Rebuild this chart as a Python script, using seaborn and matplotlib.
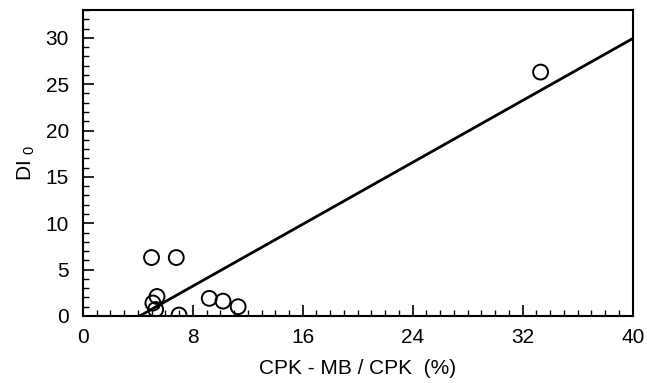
import matplotlib
matplotlib.use("Agg")
import matplotlib.pyplot as plt
from matplotlib.ticker import MultipleLocator
import numpy as np
import pandas as pd
import seaborn as sns

cpk_mb_ratio = [5.0, 6.8, 5.4, 5.1, 5.3, 7.0, 9.2, 10.2, 11.3, 33.3]
di_0 = [6.3, 6.3, 2.1, 1.4, 0.7, 0.1, 1.9, 1.6, 1.0, 26.3]

x_ticks = [0, 8, 16, 24, 32, 40]
y_ticks = [0, 5, 10, 15, 20, 25, 30]

data = pd.DataFrame({"ratio": cpk_mb_ratio, "di0": di_0})

sns.set_style("ticks")
plt.rcParams["font.family"] = ["Liberation Sans", "DejaVu Sans"]
plt.rcParams["mathtext.fontset"] = "custom"
plt.rcParams["mathtext.rm"] = "Liberation Sans"
for key in ["text.color", "axes.labelcolor", "xtick.color", "ytick.color", "axes.edgecolor"]:
    plt.rcParams[key] = "black"

fig, ax = plt.subplots(figsize=(6.57, 3.83), dpi=100)
fig.subplots_adjust(left=0.126, right=0.963, top=0.974, bottom=0.175)

ax.set_xlim(0, 40)
ax.set_ylim(0, 33)

sns.regplot(
    x="ratio", y="di0", data=data, ax=ax, ci=None, truncate=False,
    scatter_kws=dict(s=115, facecolors="none", edgecolors="black", linewidths=1.4, alpha=1),
    line_kws=dict(color="black", linewidth=2.0),
)

ax.set_xlim(0, 40)
ax.set_ylim(0, 33)
ax.set_xticks(x_ticks)
ax.set_yticks(y_ticks)
ax.xaxis.set_minor_locator(MultipleLocator(1))
ax.yaxis.set_minor_locator(MultipleLocator(1))
ax.tick_params(which="major", direction="in", length=8, width=1.2, labelsize=15)
ax.tick_params(axis="x", which="major", pad=9)
ax.tick_params(axis="y", which="major", pad=10)
ax.tick_params(which="minor", direction="in", length=4, width=1.0)
for s in ax.spines.values():
    s.set_linewidth(1.5)
    s.set_visible(True)

ax.set_xlabel("CPK - MB / CPK  (%)", fontsize=15, labelpad=8)
ax.set_ylabel(r"DI $_{\mathregular{0}}$", fontsize=15, labelpad=6)

fig.savefig("out.png", dpi=100)
